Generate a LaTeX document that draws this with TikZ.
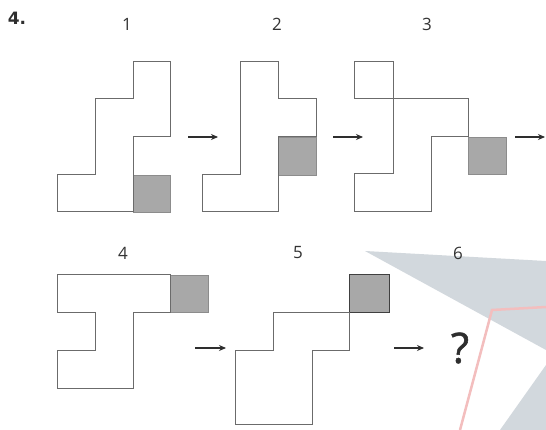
\documentclass[tikz,border=0pt]{standalone}
\usepackage{fontspec}
\setmainfont{Open Sans}
\newfontfamily\headfont{DejaVu Sans}
\newfontfamily\qfont{Open Sans}[FakeBold=1.2]
\usetikzlibrary{arrows.meta}
\definecolor{wmgray}{RGB}{210,216,221}
\definecolor{wmred}{RGB}{243,190,190}
\begin{document}
\begin{tikzpicture}[x=1pt,y=-1pt,
  outline/.style={draw=black!58,line width=1pt,line join=miter},
  grayfill/.style={fill=black!34,draw=black!45,line width=0.8pt},
  arr/.style={draw=black!82,line width=1.1pt,-{Stealth[length=7pt,width=6pt]}},
  lbl/.style={font=\fontsize{17}{20}\selectfont,text=black!80,inner sep=0pt},
  wm/.style={fill=wmgray,draw=none},
  wmline/.style={draw=wmred,line width=2.5pt}]
\useasboundingbox (0,0) rectangle (546,430);
\fill[white] (0,0) rectangle (546,430);
% watermark
\fill[wm] (365,251) -- (546,261) -- (546,350) -- cycle;
\fill[wm] (546,365) -- (546,430) -- (500,430) -- cycle;
\draw[wmline] (546,307) -- (492,310) -- (460,430);
% title
\node[font=\headfont\bfseries\fontsize{17}{19}\selectfont,text=black!82,inner sep=0pt] (title) at (17,18) {4.};
% labels
\node[lbl] (l1) at (127,24) {1};
\node[lbl] (l2) at (277,24) {2};
\node[lbl] (l3) at (427,24) {3};
\node[lbl] (l4) at (123,253) {4};
\node[lbl] (l5) at (298,253) {5};
\node[lbl] (l6) at (458,253) {6};
% figure 1
\fill[grayfill] (133,175) rectangle (170,212);
\draw[outline] (57,212) -- (57,175) -- (95,175) -- (95,99) -- (133,99) -- (133,62) -- (170,62) -- (170,137) -- (133,137) -- (133,212) -- cycle;
% figure 2
\fill[grayfill] (278,137) rectangle (316,175);
\draw[outline] (202,212) -- (202,175) -- (240,175) -- (240,62) -- (278,62) -- (278,99) -- (316,99) -- (316,137) -- (278,137) -- (278,212) -- cycle;
% figure 3
\fill[grayfill] (468,137) rectangle (506,174);
\draw[outline] (354,62) rectangle (393,99);
\draw[outline] (354,212) -- (354,174) -- (393,174) -- (393,99) -- (468,99) -- (468,137) -- (431,137) -- (431,212) -- cycle;
% figure 4
\fill[grayfill] (170,275) rectangle (208,312);
\draw[outline] (57,275) -- (170,275) -- (170,312) -- (133,312) -- (133,388) -- (57,388) -- (57,350) -- (95,350) -- (95,312) -- (57,312) -- cycle;
% figure 5
\fill[grayfill,draw=black!75] (349,274) rectangle (389,312);
\draw[outline] (235,424) -- (235,350) -- (273,350) -- (273,312) -- (349,312) -- (349,350) -- (312,350) -- (312,424) -- cycle;
% arrows
\coordinate (a1s) at (188,137); \coordinate (a1e) at (218,137);
\coordinate (a2s) at (333,137); \coordinate (a2e) at (363,137);
\coordinate (a3s) at (515,137); \coordinate (a3e) at (545,137);
\coordinate (a4s) at (195,348); \coordinate (a4e) at (226,348);
\coordinate (a5s) at (394,348); \coordinate (a5e) at (424,348);
\draw[arr] (a1s) -- (a1e);
\draw[arr] (a2s) -- (a2e);
\draw[arr] (a3s) -- (a3e);
\draw[arr] (a4s) -- (a4e);
\draw[arr] (a5s) -- (a5e);
% question mark
\node[font=\qfont\fontsize{42}{46}\selectfont,text=black!82,inner sep=0pt] (q) at (460,348) {?};
\end{tikzpicture}
\end{document}
